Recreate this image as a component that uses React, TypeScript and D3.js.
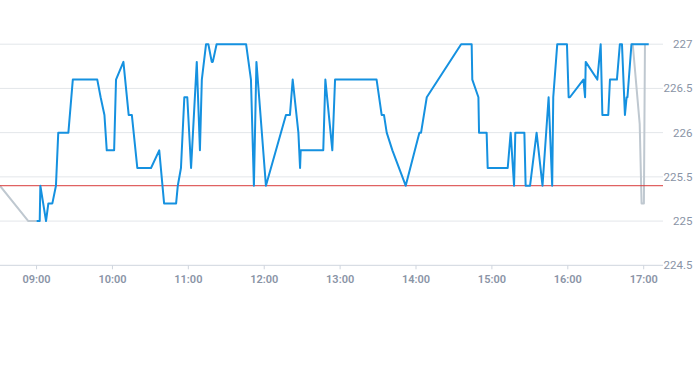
import React from "react";
import * as d3 from "d3";

const blueTimes = [
  "09:00", "09:02:30", "09:03", "09:07:30", "09:09:20", "09:12:30", "09:15:20", "09:17:10", "09:25:10", "09:28:40",
  "09:48", "09:50:40", "09:53:40", "09:55:30", "10:01:20", "10:02:50", "10:08:40", "10:12:50", "10:15:20", "10:19:40",
  "10:30:30", "10:37", "10:40:50", "10:50:20", "10:51:40", "10:54:10", "10:56:50", "10:59:10", "11:02:10", "11:06:40",
  "11:09:10", "11:10:40", "11:14", "11:15:50", "11:18:30", "11:19:20", "11:22:20", "11:45:40", "11:49:30", "11:51:50",
  "11:53:50", "12:01:20", "12:17:10", "12:20:20", "12:22:30", "12:27", "12:28:20", "12:28:50", "12:46:40", "12:48:20",
  "12:53:50", "12:56", "13:28:50", "13:32:50", "13:34:40", "13:36:50", "13:41:20", "13:51:50", "14:02:40", "14:04",
  "14:08:30", "14:35:40", "14:44", "14:44:30", "14:49:20", "14:49:50", "14:55:50", "14:56:40", "15:12:30", "15:14:50",
  "15:17:30", "15:18:30", "15:25:40", "15:26:40", "15:30:10", "15:35:20", "15:40", "15:44:50", "15:47:40", "15:48:30",
  "15:51:40", "15:59:20", "16:00:40", "16:01:40", "16:12:20", "16:13:40", "16:14:10", "16:23:20", "16:26", "16:27:20",
  "16:32", "16:33:20", "16:38:50", "16:41:10", "16:42:50", "16:45:10", "16:46:30", "16:47:10", "16:50:20", "17:04"
];
const blueValues = [
  225.0, 225.0, 225.4, 225.0, 225.2, 225.2, 225.4, 226.0, 226.0, 226.6,
  226.6, 226.4, 226.2, 225.8, 225.8, 226.6, 226.8, 226.2, 226.2, 225.6,
  225.6, 225.8, 225.2, 225.2, 225.4, 225.6, 226.4, 226.4, 225.6, 226.8,
  225.8, 226.6, 227.0, 227.0, 226.8, 226.8, 227.0, 227.0, 226.6, 225.4,
  226.8, 225.4, 226.2, 226.2, 226.6, 226.0, 225.6, 225.8, 225.8, 226.6,
  225.8, 226.6, 226.6, 226.2, 226.2, 226.0, 225.8, 225.4, 226.0, 226.0,
  226.4, 227.0, 227.0, 226.6, 226.4, 226.0, 226.0, 225.6, 225.6, 226.0,
  225.4, 226.0, 226.0, 225.4, 225.4, 226.0, 225.4, 226.4, 225.4, 226.4,
  227.0, 227.0, 226.4, 226.4, 226.6, 226.4, 226.8, 226.6, 227.0, 226.2,
  226.2, 226.6, 226.6, 227.0, 227.0, 226.2, 226.4, 226.4, 227.0, 227.0
];

const grayStartTimes = ["08:31", "08:53:30", "09:00"];
const grayStartValues = [225.4, 225.0, 225.0];
const grayEndTimes = ["16:50:20", "16:51:20", "16:56:50", "16:58:20", "17:00:10", "17:01"];
const grayEndValues = [227.0, 227.0, 226.1, 225.2, 225.2, 227.0];

const thresholdValue = 225.4;
const yTicks = [224.5, 225, 225.5, 226, 226.5, 227];
const xTickLabels = ["09:00", "10:00", "11:00", "12:00", "13:00", "14:00", "15:00", "16:00", "17:00"];
const domainStart = "08:31:06";
const domainEnd = "17:15:16";

function toSeconds(s: string): number {
  const p = s.split(":").map(Number);
  return p[0] * 3600 + p[1] * 60 + (p[2] || 0);
}

const W = 693;
const H = 365;
const PLOT_LEFT = 0;
const PLOT_RIGHT = 663;
const PLOT_TOP = 44.2;
const PLOT_BOTTOM = 265.3;

export default function App() {
  const x = d3.scaleLinear().domain([toSeconds(domainStart), toSeconds(domainEnd)]).range([PLOT_LEFT, PLOT_RIGHT]);
  const y = d3.scaleLinear().domain([224.5, 227]).range([PLOT_BOTTOM, PLOT_TOP]);

  const line = d3
    .line<[number, number]>()
    .x((d) => x(d[0]))
    .y((d) => y(d[1]));

  const blue: [number, number][] = blueTimes.map((t, i) => [toSeconds(t), blueValues[i]]);
  const grayA: [number, number][] = grayStartTimes.map((t, i) => [toSeconds(t), grayStartValues[i]]);
  const grayB: [number, number][] = grayEndTimes.map((t, i) => [toSeconds(t), grayEndValues[i]]);

  const font = "Roboto, 'Liberation Sans', Arial, sans-serif";

  return (
    <div style={{ position: "absolute", left: 0, top: 0 }}>
      <svg width={W} height={H} style={{ display: "block", background: "#fff" }}>
        {yTicks.slice(1).map((v) => (
          <line key={v} x1={PLOT_LEFT} x2={PLOT_RIGHT} y1={y(v)} y2={y(v)} stroke="#e3e6ea" strokeWidth={1} />
        ))}
        <line x1={PLOT_LEFT} x2={PLOT_RIGHT} y1={y(224.5)} y2={y(224.5)} stroke="#cfd5de" strokeWidth={1} />
        {xTickLabels.map((t) => (
          <g key={t} transform={`translate(${x(toSeconds(t))},0)`}>
            <line y1={PLOT_BOTTOM} y2={PLOT_BOTTOM + 4} stroke="#cfd5de" />
            <text
              y={PLOT_BOTTOM + 18}
              textAnchor="middle"
              fontFamily={font}
              fontSize={11}
              fontWeight={600}
              fill="#8a94a6"
            >
              {t}
            </text>
          </g>
        ))}
        {yTicks.map((v) => (
          <text
            key={v}
            x={692.5}
            y={y(v)}
            dy="0.35em"
            textAnchor="end"
            fontFamily={font}
            fontSize={11.5}
            fill="#8a94a6"
          >
            {v}
          </text>
        ))}
        <path d={line(grayA) || ""} fill="none" stroke="#bfc8d0" strokeWidth={2} strokeLinejoin="round" />
        <path d={line(grayB) || ""} fill="none" stroke="#bfc8d0" strokeWidth={2} strokeLinejoin="round" />
        <line
          x1={PLOT_LEFT}
          x2={PLOT_RIGHT}
          y1={y(thresholdValue)}
          y2={y(thresholdValue)}
          stroke="#d83a3a"
          strokeWidth={1}
        />
        <path d={line(blue) || ""} fill="none" stroke="#1591e0" strokeWidth={2} strokeLinejoin="round" />
      </svg>
    </div>
  );
}
